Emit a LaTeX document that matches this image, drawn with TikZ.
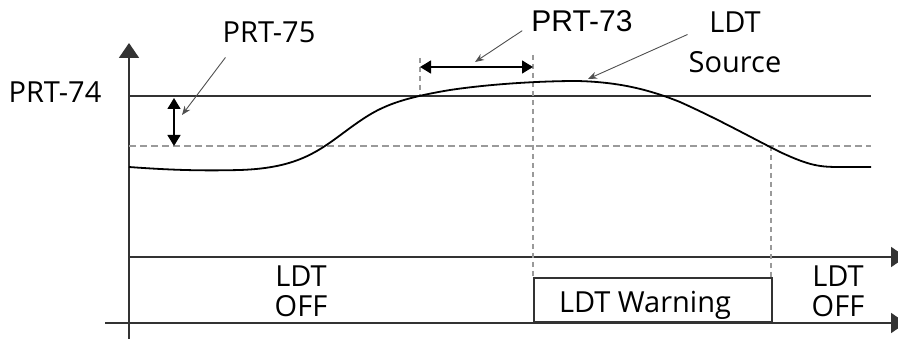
\documentclass[tikz,border=0pt]{standalone}
\usepackage{fontspec}
\setmainfont{Open Sans}
\newfontfamily\arialf{Liberation Sans}
\usetikzlibrary{arrows.meta}
\definecolor{axisc}{HTML}{333333}
\definecolor{dashc}{HTML}{9A9A9A}
\definecolor{leadc}{HTML}{505050}
\begin{document}
\begin{tikzpicture}[x=1pt,y=-1pt,
  lbl/.style={inner sep=0pt,font=\fontsize{29}{30}\selectfont},
  axisline/.style={draw=axisc,line width=1.8pt},
  levelline/.style={draw=axisc,line width=1.6pt},
  dashline/.style={draw=dashc,line width=1.3pt,dash pattern=on 7pt off 4pt},
  vdash/.style={draw=dashc,line width=1.2pt,dash pattern=on 5pt off 4pt},
  leader/.style={draw=leadc,line width=0.9pt,-{Stealth[length=9pt,width=7pt]}},
  dimarrow/.style={draw=black,line width=1.4pt,{Triangle[length=11pt,width=13pt]}-{Triangle[length=11pt,width=13pt]}},
  curve/.style={draw=black,line width=1.8pt}]
\clip (0,0) rectangle (898,339);
\useasboundingbox (0,0) rectangle (898,339);
% coordinates
\coordinate (ybot) at (129,345);
\coordinate (ytop) at (129,43);
\coordinate (a1s) at (129,257);
\coordinate (a1e) at (906,257);
\coordinate (a2s) at (105,323);
\coordinate (a2e) at (906,323);
\coordinate (l74s) at (129,96);
\coordinate (l74e) at (871,96);
\coordinate (lds) at (129,146);
\coordinate (lde) at (871,146);
\coordinate (v1t) at (420,58);
\coordinate (v1b) at (420,96);
\coordinate (v2t) at (533,55);
\coordinate (v2b) at (533,279);
\coordinate (v3t) at (771,146);
\coordinate (v3b) at (771,279);
\coordinate (d75t) at (174,98);
\coordinate (d75b) at (174,146);
\coordinate (d73l) at (420,67);
\coordinate (d73r) at (533,67);
\coordinate (t75) at (182,115);
\coordinate (t73) at (475,62);
\coordinate (tsrc) at (588,79);
% axes
\draw[axisline,-{Triangle[length=15pt,width=20pt]}] (ybot) -- (ytop);
\draw[axisline,-{Triangle[length=15pt,width=20pt]}] (a1s) -- (a1e);
\draw[axisline,-{Triangle[length=15pt,width=20pt]}] (a2s) -- (a2e);
% level lines
\draw[levelline] (l74s) -- (l74e);
\draw[dashline] (lds) -- (lde);
\draw[vdash] (v1t) -- (v1b);
\draw[vdash] (v2t) -- (v2b);
\draw[vdash] (v3t) -- (v3b);
% warning box
\node[draw=axisc,line width=1.6pt,inner sep=0pt,minimum width=238pt,minimum height=44pt,anchor=south west] (warn) at (533,323) {};
\node[lbl,anchor=base] (warntxt) at (645,313) {LDT Warning};
% curve
\draw[curve] (129,167) .. controls (170,170) and (200,171) .. (240,170)
  .. controls (300,168) and (320,150) .. (350,128)
  .. controls (375,110) and (390,100) .. (450,90)
  .. controls (490,84) and (540,81) .. (577,81)
  .. controls (620,82) and (650,90) .. (680,102)
  .. controls (720,120) and (750,137) .. (780,152)
  .. controls (810,166) and (820,167) .. (840,167) -- (871,167);
% dimension arrows
\draw[dimarrow] (d75t) -- (d75b);
\draw[dimarrow] (d73l) -- (d73r);
% labels
\node[lbl,anchor=base] (p74) at (55,103) {PRT-74};
\node[lbl,anchor=base] (p75) at (269,43) {PRT-75};
\node[lbl,anchor=base,font=\arialf\fontsize{30}{30}\selectfont] (p73) at (582,32) {PRT-73};
\node[lbl,align=center,font=\fontsize{29}{40}\selectfont] (src) at (735,42.5) {LDT\\Source};
\node[lbl,align=center,font=\fontsize{29}{30}\selectfont] (off1) at (301,291.5) {LDT\\OFF};
\node[lbl,align=center,font=\fontsize{29}{30}\selectfont] (off2) at (838,291.5) {LDT\\OFF};
% leaders
\draw[leader] (p75.south west) ++(3,14) -- (t75);
\draw[leader] (p73.west) ++(-9,9) -- (t73);
\draw[leader] (src.west) ++(-1,-8) -- (tsrc);
\end{tikzpicture}
\end{document}
